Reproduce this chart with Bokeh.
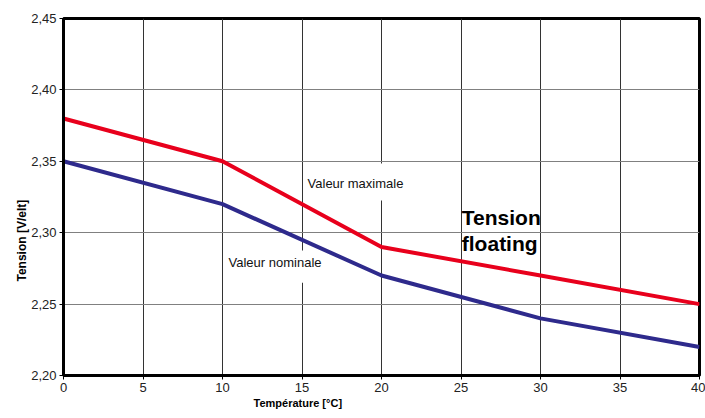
from bokeh.plotting import figure
from bokeh.models import Range1d, FixedTicker, CustomJSTickFormatter, Label, Title
from bokeh.embed import file_html
from bokeh.resources import INLINE

temperature = [0, 10, 20, 30, 40]
valeur_maximale = [2.38, 2.35, 2.29, 2.27, 2.25]
valeur_nominale = [2.35, 2.32, 2.27, 2.24, 2.22]
x_ticks = [0, 5, 10, 15, 20, 25, 30, 35, 40]
y_ticks = [2.20, 2.25, 2.30, 2.35, 2.40, 2.45]

FONT = "Liberation Sans"

p = figure(width=705, height=418, output_backend="svg", toolbar_location=None,
           x_range=Range1d(0, 40), y_range=Range1d(2.20, 2.45),
           min_border_left=63, min_border_right=6, min_border_top=18, min_border_bottom=43)
p.background_fill_color = "white"
p.border_fill_color = "white"
p.outline_line_color = "black"
p.outline_line_width = 3

for ax in (p.xaxis, p.yaxis):
    ax.axis_line_color = "black"
    ax.axis_line_width = 3
    ax.major_tick_line_color = "black"
    ax.major_tick_out = 4
    ax.major_tick_in = 0
    ax.minor_tick_line_color = None
    ax.major_label_text_font = FONT
    ax.major_label_text_font_size = "13px"
    ax.major_label_text_color = "#222222"
    ax.major_label_standoff = 3

p.xaxis.ticker = FixedTicker(ticks=x_ticks)
p.yaxis.ticker = FixedTicker(ticks=y_ticks)
p.yaxis.formatter = CustomJSTickFormatter(code="return tick.toFixed(2).replace('.', ',');")

p.xgrid.ticker = FixedTicker(ticks=x_ticks)
p.ygrid.ticker = FixedTicker(ticks=y_ticks)
p.xgrid.grid_line_color = "#333333"
p.xgrid.grid_line_width = 1
p.ygrid.grid_line_color = "#808080"
p.ygrid.grid_line_width = 1

# white label boxes (hide gridlines behind labels)
p.quad(left=[15.1], right=[21.6], top=[2.3485], bottom=[2.3226], fill_color="white", line_color=None)
p.quad(left=[10.3], right=[16.3], top=[2.2875], bottom=[2.2650], fill_color="white", line_color=None)

p.line(temperature, valeur_maximale, line_color="#E8001C", line_width=4)
p.line(temperature, valeur_nominale, line_color="#2E2A8C", line_width=4)

p.add_layout(Label(x=15.35, y=2.3345, text="Valeur maximale", text_font=FONT, text_font_size="13px",
                   text_color="#111111", text_baseline="middle", text_align="left"))
p.add_layout(Label(x=10.38, y=2.279, text="Valeur nominale", text_font=FONT, text_font_size="13px",
                   text_color="#111111", text_baseline="middle", text_align="left"))
p.add_layout(Label(x=25.05, y=2.3106, text="Tension", text_font=FONT, text_font_size="21px",
                   text_font_style="bold", text_color="black", text_baseline="middle", text_align="left"))
p.add_layout(Label(x=25.05, y=2.2922, text="floating", text_font=FONT, text_font_size="21px",
                   text_font_style="bold", text_color="black", text_baseline="middle", text_align="left"))

# axis titles, shifted like the original
p.add_layout(Title(text="Tension [V/elt]", align="left", offset=94, text_font=FONT,
                   text_font_size="12px", text_font_style="bold", text_color="black",
                   standoff=0), "left")
p.add_layout(Title(text="Température [°C]", align="left", offset=190, text_font=FONT,
                   text_font_size="11px", text_font_style="bold", text_color="black",
                   standoff=0), "below")

open("out.html", "w").write(file_html(p, INLINE))
